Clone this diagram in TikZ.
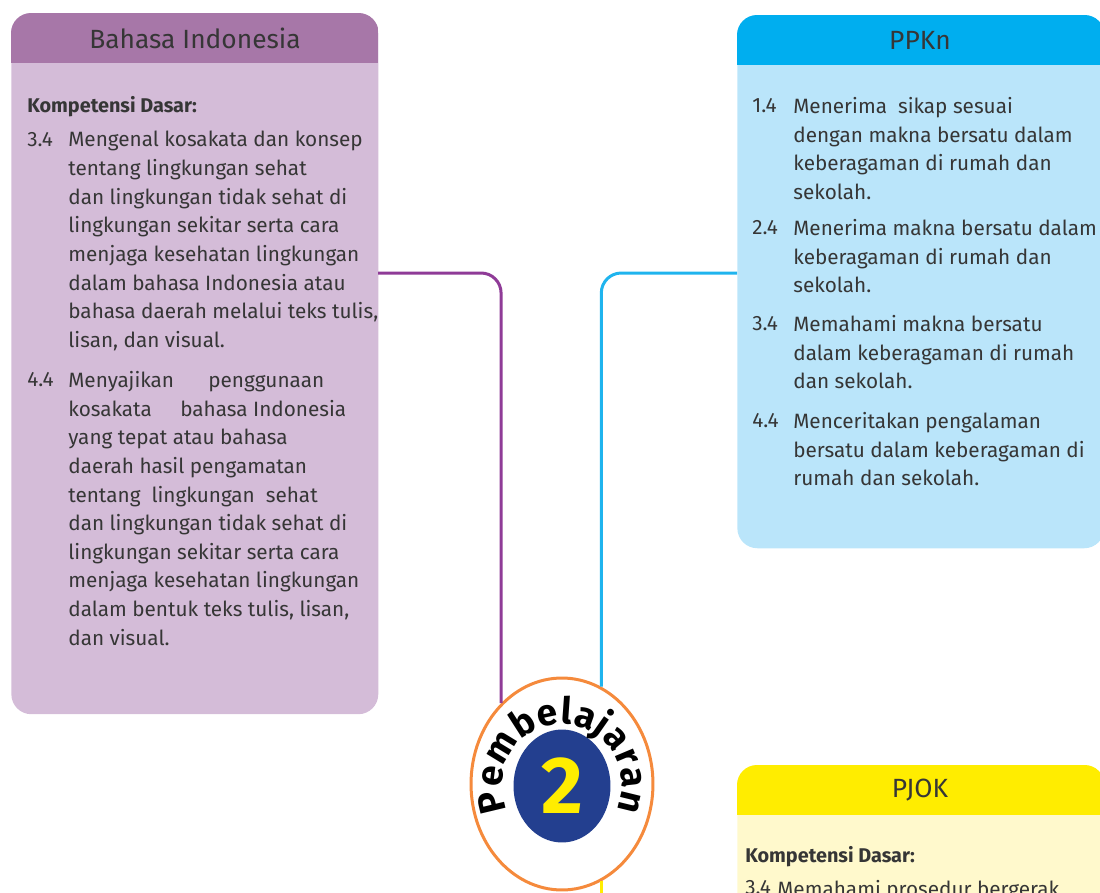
\documentclass[tikz,border=0pt]{standalone}
\usepackage{fontspec}
\setmainfont{Fira Sans}
\usetikzlibrary{shapes.geometric}
\usetikzlibrary{decorations.text}
\usetikzlibrary{calc}

\definecolor{ungutua}{HTML}{A777A8}
\definecolor{ungumuda}{HTML}{D4BCD8}
\definecolor{ungugaris}{HTML}{8F3B97}
\definecolor{birutua}{HTML}{00AEEF}
\definecolor{birumuda}{HTML}{BAE5FA}
\definecolor{birugaris}{HTML}{1FB4EE}
\definecolor{kuningtua}{HTML}{FFED00}
\definecolor{kuningmuda}{HTML}{FFF9CC}
\definecolor{oranye}{HTML}{F58A3C}
\definecolor{birulingkar}{HTML}{233F8F}
\definecolor{teksabu}{HTML}{363636}

\tikzset{
        kotak/.style={rounded corners=0.4cm, minimum width=7.34cm, anchor=north west, inner sep=0pt},
        judul/.style={font=\fontsize{15}{18}\selectfont, text=teksabu},
        isi/.style={font=\fontsize{11.8}{16.3}\selectfont, text=teksabu, align=left, anchor=north west, inner sep=0pt},
        kd/.style={font=\fontsize{11.3}{13}\selectfont\bfseries, text=teksabu, anchor=north west, inner sep=0pt},
        garis/.style={line width=0.06cm, rounded corners=0.4cm}
}

\begin{document}
\begin{tikzpicture}[x=0.02cm, y=0.02cm]
        \useasboundingbox (0,0) rectangle (1100,-893);
        \clip (0,0) rectangle (1100,-893);

        % Bahasa Indonesia
        \node[kotak, fill=ungumuda, minimum height=14.02cm] (bind) at (11,-13) {};
        \begin{scope}
                \clip[rounded corners=0.4cm] (bind.north west) rectangle (bind.south east);
                \fill[ungutua] (bind.north west) rectangle ([yshift=-1cm]bind.north east);
        \end{scope}
        \node[judul] (bindjudul) at (195,-38) {Bahasa Indonesia};
        \node[kd] (bindkd) at (27,-96) {Kompetensi Dasar:};
        \node[isi] (bindno1) at (27,-132) {3.4};
        \node[isi] (bindisi1) at (68,-131) {Mengenal kosakata dan konsep\\
                tentang lingkungan sehat\\
                dan lingkungan tidak sehat di\\
                lingkungan sekitar serta cara\\
                menjaga kesehatan lingkungan\\
                dalam bahasa Indonesia atau\\
                bahasa daerah melalui teks tulis,\\
                lisan, dan visual.};
        \node[isi] (bindno2) at (27,-372) {4.4};
        \node[isi] (bindisi2) at (68,-371) {\makebox[2.8cm][l]{Menyajikan}penggunaan\\
                \makebox[2.24cm][l]{kosakata}bahasa Indonesia\\
                yang tepat atau bahasa\\
                daerah hasil pengamatan\\
                tentang\ \ lingkungan\ \ sehat\\
                dan lingkungan tidak sehat di\\
                lingkungan sekitar serta cara\\
                menjaga kesehatan lingkungan\\
                dalam bentuk teks tulis, lisan,\\
                dan visual.};

        % PPKn
        \node[kotak, fill=birumuda, minimum height=10.66cm] (ppkn) at (737,-15) {};
        \begin{scope}
                \clip[rounded corners=0.4cm] (ppkn.north west) rectangle (ppkn.south east);
                \fill[birutua] (ppkn.north west) rectangle ([yshift=-1cm]ppkn.north east);
        \end{scope}
        \node[judul] (ppknjudul) at (920,-40) {PPKn};
        \foreach \i/\no/\y in {1/1.4/98, 2/2.4/220, 3/3.4/316, 4/4.4/413} {
                \node[isi] (ppknno\i) at (752,-\y) {\no};
        }
        \node[isi] (ppknisi1) at (793,-97) {Menerima\ \ sikap sesuai\\
                dengan makna bersatu dalam\\
                keberagaman di rumah dan\\
                sekolah.};
        \node[isi] (ppknisi2) at (793,-219) {Menerima makna bersatu dalam\\
                keberagaman di rumah dan\\
                sekolah.};
        \node[isi] (ppknisi3) at (793,-315) {Memahami makna bersatu\\
                dalam keberagaman di rumah\\
                dan sekolah.};
        \node[isi] (ppknisi4) at (793,-412) {Menceritakan pengalaman\\
                bersatu dalam keberagaman di\\
                rumah dan sekolah.};

        % PJOK
        \node[kotak, fill=kuningmuda, minimum height=4cm] (pjok) at (737,-765) {};
        \begin{scope}
                \clip[rounded corners=0.4cm] (pjok.north west) rectangle (pjok.south east);
                \fill[kuningtua] (pjok.north west) rectangle ([yshift=-1cm]pjok.north east);
        \end{scope}
        \node[judul] (pjokjudul) at (920,-790) {PJOK};
        \node[kd] (pjokkd) at (745,-846) {Kompetensi Dasar:};
        \node[isi] (pjokno1) at (745,-880) {3.4};
        \node[isi] (pjokisi1) at (777,-880) {Memahami prosedur bergerak};

        % Pembelajaran 2
        \node[ellipse, draw=oranye, line width=0.06cm, fill=white, minimum width=3.64cm, minimum height=4.24cm, inner sep=0pt] (pusat) at (562,-784) {};
        \node[ellipse, fill=birulingkar, minimum width=1.94cm, minimum height=2.26cm, inner sep=0pt,
                text=kuningtua, font=\fontsize{46}{46}\selectfont\bfseries] (angka) at (562,-786) {2};
        \path[decorate, decoration={text along path, text align=fit to path,
                text={|\fontsize{21}{21}\selectfont\bfseries|Pembelajaran}}]
                (507.2,-809.8) arc[start angle=204, end angle=-24, x radius=60, y radius=61];

        \coordinate (bindkanan) at (378,-273);
        \coordinate (ppknkiri) at (737,-273);
        \coordinate (kuningbawah) at (598,-893);
        \draw[garis, draw=ungugaris] (bindkanan) -| (pusat.127);
        \draw[garis, draw=birugaris] (ppknkiri) -| (pusat.68);
        \draw[garis, draw=kuningtua] (pusat.-68) -- (pusat.-68 |- kuningbawah);
\end{tikzpicture}
\end{document}
